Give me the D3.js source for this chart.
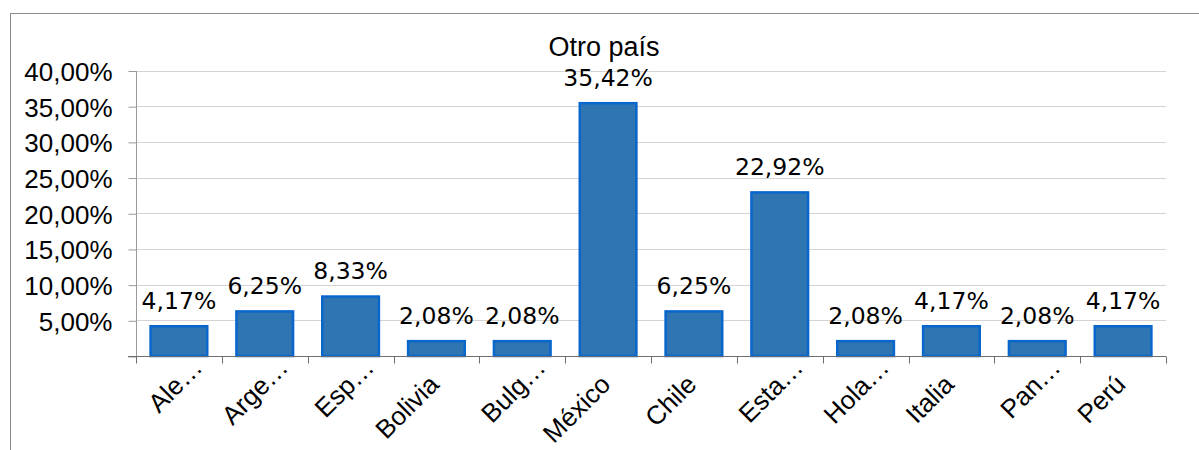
<!DOCTYPE html>
<html lang="es">
<head>
<meta charset="UTF-8">
<title>Otro país</title>
<script src="https://d3js.org/d3.v7.min.js"></script>
<style>
  html, body { margin: 0; padding: 0; background: #fff; }
  svg { display: block; }
</style>
</head>
<body>
<script>
// data
const paises = ["Ale…", "Arge…", "Esp…", "Bolivia", "Bulg…", "México", "Chile", "Esta…", "Hola…", "Italia", "Pan…", "Perú"];
const porcentajes = [4.17, 6.25, 8.33, 2.08, 2.08, 35.42, 6.25, 22.92, 2.08, 4.17, 2.08, 4.17];
const yTicks = [0, 5, 10, 15, 20, 25, 30, 35, 40];
const titulo = "Otro país";

const w = 1199, h = 450;
const plotLeft = 136, plotRight = 1166, plotTop = 70.5, plotBottom = 356;

const locale = d3.formatLocale({ decimal: ",", thousands: ".", grouping: [3], currency: ["", "€"] });
const fmt = v => locale.format(".2f")(v) + "%";

const svg = d3.select("body").append("svg")
  .attr("width", w)
  .attr("height", h);

// chart frame (runs off the picture at right and bottom)
svg.append("rect")
  .attr("x", 10.5).attr("y", 13.5)
  .attr("width", 1300).attr("height", 600)
  .attr("fill", "none")
  .attr("stroke", "#8c8c8c")
  .attr("stroke-width", 1);

const x = d3.scaleBand()
  .domain(paises)
  .range([plotLeft, plotRight])
  .paddingInner(0.34)
  .paddingOuter(0.17);

const y = d3.scaleLinear()
  .domain([0, 40])
  .range([plotBottom, plotTop]);

// gridlines
svg.append("g")
  .selectAll("line")
  .data(yTicks.filter(d => d > 0))
  .join("line")
  .attr("x1", plotLeft).attr("x2", plotRight)
  .attr("y1", d => Math.round(y(d)) + 0.5)
  .attr("y2", d => Math.round(y(d)) + 0.5)
  .attr("stroke", "#d4d4d4");

// y axis
const yAxis = svg.append("g")
  .attr("transform", "translate(" + (plotLeft + 0.5) + ",0.5)")
  .call(d3.axisLeft(y).tickValues(yTicks).tickSize(8).tickPadding(16)
    .tickFormat(d => d === 0 ? "" : fmt(d)));
yAxis.select(".domain").attr("stroke", "#9a9a9a").attr("d", "M0," + plotTop + "V" + plotBottom);
yAxis.selectAll(".tick line").attr("stroke", "#9a9a9a");
yAxis.selectAll("text")
  .attr("font-family", "'Liberation Sans', Arial, sans-serif")
  .attr("font-size", 26)
  .attr("fill", "#000")
  .attr("dy", "0.36em");

// bars
svg.append("g")
  .selectAll("rect")
  .data(porcentajes)
  .join("rect")
  .attr("x", (d, i) => x(paises[i]))
  .attr("y", d => y(d))
  .attr("width", x.bandwidth())
  .attr("height", d => y(0) - y(d))
  .attr("fill", "#2f75b2")
  .attr("stroke", "#0866cc")
  .attr("stroke-width", 2.5);

// x axis
const step = x.step();
const xAxis = svg.append("g").attr("transform", "translate(0," + (plotBottom + 0.5) + ")");
xAxis.append("line")
  .attr("x1", plotLeft - 8).attr("x2", plotRight)
  .attr("stroke", "#6e6e6e");
xAxis.selectAll("line.tk")
  .data(d3.range(paises.length + 1))
  .join("line")
  .attr("class", "tk")
  .attr("x1", i => Math.round(plotLeft + i * step) + 0.5)
  .attr("x2", i => Math.round(plotLeft + i * step) + 0.5)
  .attr("y1", 0).attr("y2", 7)
  .attr("stroke", "#6e6e6e");

svg.append("g")
  .selectAll("text")
  .data(paises)
  .join("text")
  .attr("transform", d => {
    const cx = x(d) + x.bandwidth() / 2;
    const cut = d.endsWith("…");
    return "translate(" + (cx + (cut ? 25 : 4)) + "," + (cut ? 369 : 386) + ") rotate(-45)";
  })
  .attr("text-anchor", "end")
  .attr("font-family", "'Liberation Sans', Arial, sans-serif")
  .attr("font-size", 26)
  .attr("fill", "#000")
  .text(d => d);

// data labels
svg.append("g")
  .selectAll("text")
  .data(porcentajes)
  .join("text")
  .attr("x", (d, i) => x(paises[i]) + x.bandwidth() / 2)
  .attr("y", d => y(d) - 17.5)
  .attr("text-anchor", "middle")
  .attr("font-family", "'DejaVu Sans', Verdana, sans-serif")
  .attr("font-size", 23.5)
  .attr("fill", "#000")
  .text(d => fmt(d));

// title
svg.append("text")
  .attr("x", 604)
  .attr("y", 56)
  .attr("text-anchor", "middle")
  .attr("font-family", "'Liberation Sans', Arial, sans-serif")
  .attr("font-size", 27)
  .attr("fill", "#000")
  .text(titulo);
</script>
</body>
</html>
